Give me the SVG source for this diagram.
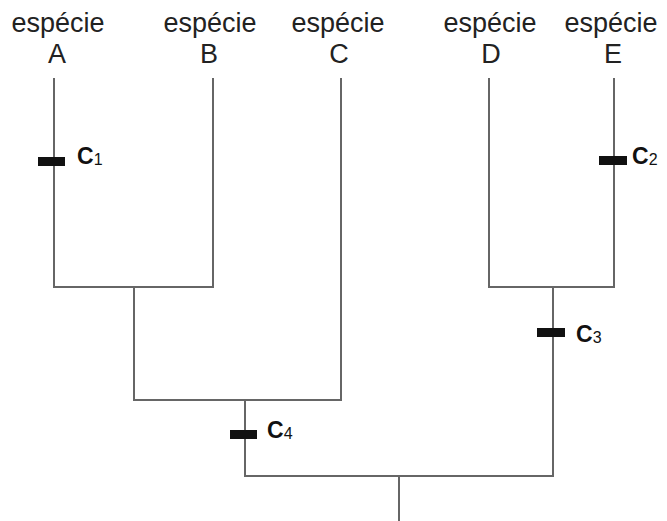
<svg xmlns="http://www.w3.org/2000/svg" width="667" height="521" viewBox="0 0 667 521">
<style>
.lbl{font-family:"Liberation Sans",Arial,sans-serif;font-size:27px;fill:#222;text-anchor:middle}
.ch{font-family:"Liberation Sans",Arial,sans-serif;font-size:23px;font-weight:bold;fill:#111}
.sub{font-size:16px;font-weight:normal}
.br{fill:none;stroke:#666;stroke-width:2}
.bar{fill:#111}
</style>
<rect width="667" height="521" fill="#fff"/>
<g id="connectors">
<path class="br" d="M54,78V287H213V78"/>
<path class="br" d="M489,78V287H614V78"/>
<path class="br" d="M134,287V400H341V78"/>
<path class="br" d="M245,400V476H553V287"/>
<path class="br" d="M399,476V521"/>
</g>
<g id="speciesA"><text class="lbl" x="58" y="32">espécie</text><text class="lbl" x="57" y="63">A</text></g>
<g id="speciesB"><text class="lbl" x="210" y="32">espécie</text><text class="lbl" x="209" y="63">B</text></g>
<g id="speciesC"><text class="lbl" x="338" y="32">espécie</text><text class="lbl" x="339" y="63">C</text></g>
<g id="speciesD"><text class="lbl" x="490" y="32">espécie</text><text class="lbl" x="491" y="63">D</text></g>
<g id="speciesE"><text class="lbl" x="611" y="32">espécie</text><text class="lbl" x="613" y="63">E</text></g>
<g id="C1"><rect class="bar" x="38" y="157" width="27" height="9"/><text class="ch" x="77" y="164">C<tspan class="sub" dy="1">1</tspan></text></g>
<g id="C2"><rect class="bar" x="599" y="156" width="28" height="9"/><text class="ch" x="632" y="164">C<tspan class="sub" dy="1">2</tspan></text></g>
<g id="C3"><rect class="bar" x="537" y="328" width="28" height="9"/><text class="ch" x="576" y="342">C<tspan class="sub" dy="1">3</tspan></text></g>
<g id="C4"><rect class="bar" x="230" y="430" width="27" height="9"/><text class="ch" x="267" y="438">C<tspan class="sub" dy="1">4</tspan></text></g>
</svg>
